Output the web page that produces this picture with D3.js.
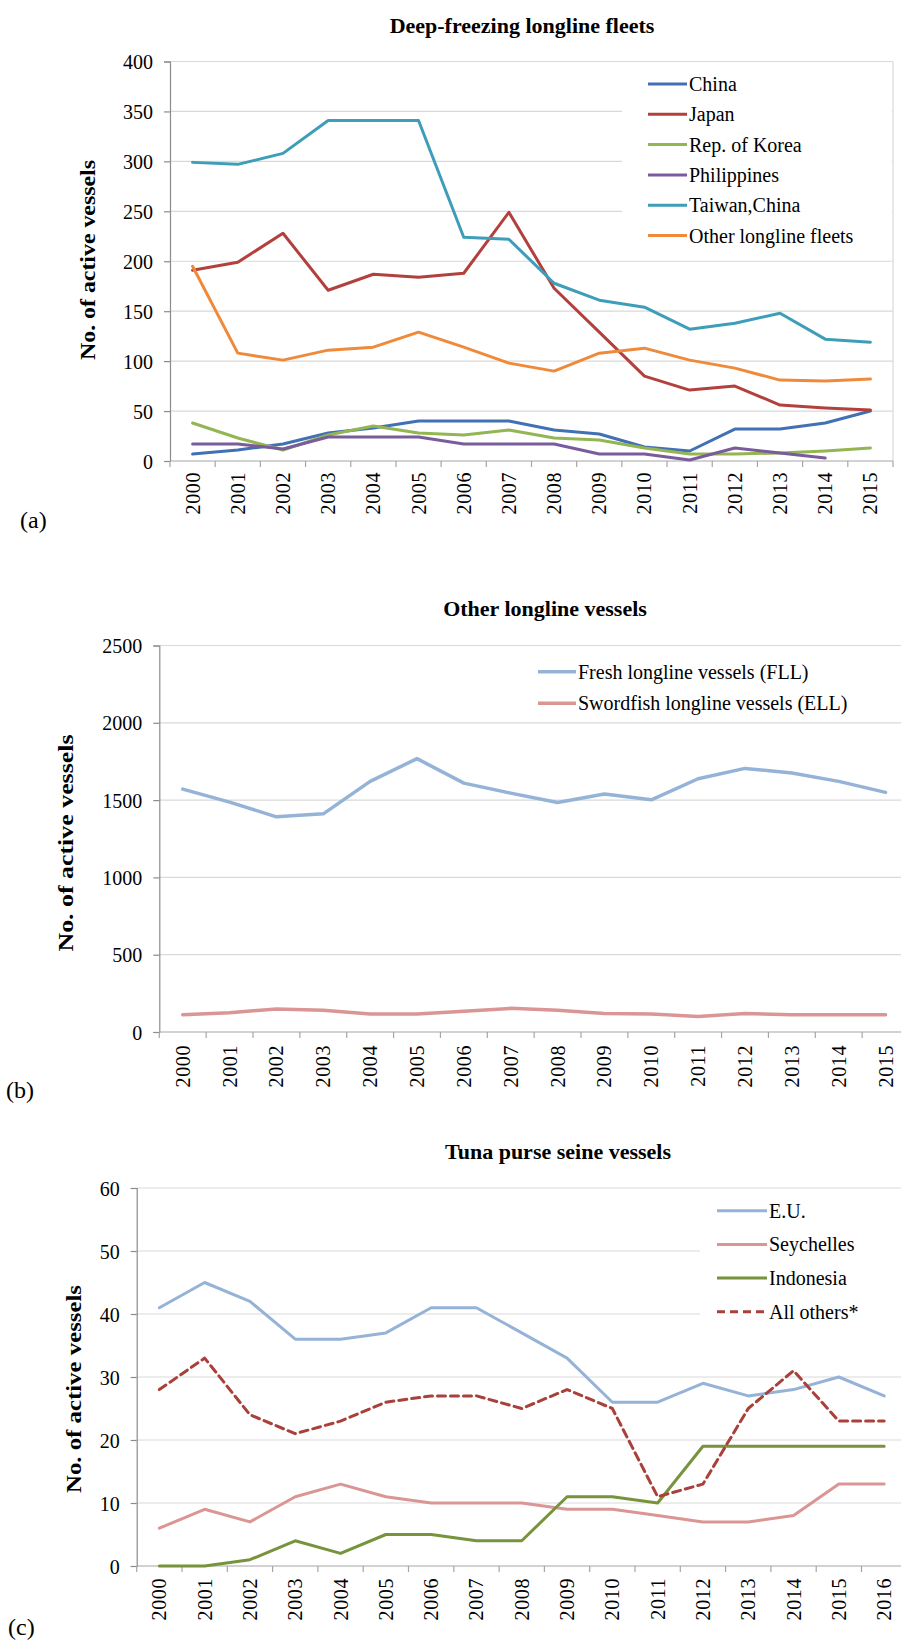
<!DOCTYPE html>
<html>
<head>
<meta charset="utf-8">
<script src="https://cdn.jsdelivr.net/npm/d3@7"></script>
<style>
  body { margin: 0; background: #fff; }
  svg { display: block; }
  text { font-family: "Liberation Serif", "Times New Roman", Times, serif; fill: #000; }
</style>
</head>
<body>
<svg id="fig" width="901" height="1643"></svg>
<script>
// ---------- data ----------
const yearsAB = ["2000","2001","2002","2003","2004","2005","2006","2007","2008","2009","2010","2011","2012","2013","2014","2015"];
const yearsC  = ["2000","2001","2002","2003","2004","2005","2006","2007","2008","2009","2010","2011","2012","2013","2014","2015","2016"];

// (a) deep-freezing longline fleets
const china       = [7, 11, 17, 28, 33, 40, 40, 40, 31, 27, 14, 10, 32, 32, 38, 50];
const japan       = [191, 199, 228, 171, 187, 184, 188, 249, 173, 129, 85, 71, 75, 56, 53, 51];
const korea       = [38, 23, 11, 26, 35, 28, 26, 31, 23, 21, 13, 7, 7, 8, 10, 13];
const philippines = [17, 17, 12, 24, 24, 24, 17, 17, 17, 7, 7, 1, 13, 8, 3, null];
const taiwan      = [299, 297, 308, 341, 341, 341, 224, 222, 178, 161, 154, 132, 138, 148, 122, 119];
const otherLL     = [195, 108, 101, 111, 114, 129, 114, 98, 90, 108, 113, 101, 93, 81, 80, 82];
const ticksA      = [0, 50, 100, 150, 200, 250, 300, 350, 400];

// (b) other longline vessels
const freshLL     = [1571, 1487, 1392, 1411, 1621, 1768, 1610, 1545, 1485, 1539, 1502, 1638, 1705, 1675, 1621, 1550];
const swordLL     = [112, 125, 149, 140, 116, 116, 134, 153, 140, 119, 116, 101, 119, 112, 112, 112];
const ticksB      = [0, 500, 1000, 1500, 2000, 2500];

// (c) tuna purse seine vessels
const eu          = [41, 45, 42, 36, 36, 37, 41, 41, 37, 33, 26, 26, 29, 27, 28, 30, 27];
const seychelles  = [6, 9, 7, 11, 13, 11, 10, 10, 10, 9, 9, 8, 7, 7, 8, 13, 13];
const indonesia   = [0, 0, 1, 4, 2, 5, 5, 4, 4, 11, 11, 10, 19, 19, 19, 19, 19];
const allOthers   = [28, 33, 24, 21, 23, 26, 27, 27, 25, 28, 25, 11, 13, 25, 31, 23, 23];
const ticksC      = [0, 10, 20, 30, 40, 50, 60];

const svg = d3.select("#fig");

function panel(o) {
  const g = svg.append("g");
  const x = d3.scaleBand().domain(o.years).range([o.left, o.right]);
  const y = d3.scaleLinear().domain([0, d3.max(o.ticks)]).range([o.bottom, o.top]);
  const cx = d => x(d) + x.bandwidth() / 2;

  // horizontal gridlines
  g.append("g").selectAll("line").data(o.ticks.filter(t => t > 0)).join("line")
    .attr("x1", o.left).attr("x2", o.right)
    .attr("y1", d => y(d)).attr("y2", d => y(d))
    .attr("stroke", "#d9d9d9").attr("stroke-width", 1.2);

  if (o.rightBorder) {
    g.append("line").attr("x1", o.right).attr("x2", o.right)
      .attr("y1", o.top).attr("y2", o.bottom)
      .attr("stroke", "#d9d9d9").attr("stroke-width", 1.2);
  }

  // y axis
  const ya = g.append("g").attr("transform", `translate(${o.left},0)`)
    .call(d3.axisLeft(y).tickValues(o.ticks).tickSize(6).tickPadding(11).tickFormat(d3.format("d")));
  ya.attr("font-family", null);
  ya.select(".domain").attr("stroke", "#8c8c8c").attr("stroke-width", 1.2);
  ya.selectAll(".tick line").attr("stroke", "#8c8c8c").attr("stroke-width", 1.2);
  ya.selectAll(".tick text").style("font-size", "20px").attr("dy", "0.35em");

  // x axis: ticks on category boundaries, labels rotated at category centres
  const xa = g.append("g").attr("transform", `translate(0,${o.bottom})`);
  xa.append("line").attr("x1", o.left).attr("x2", o.right)
    .attr("stroke", "#a6a6a6").attr("stroke-width", 1.2);
  const bounds = o.years.map(d => x(d)).concat([o.right]);
  xa.selectAll("line.tk").data(bounds).join("line").attr("class", "tk")
    .attr("x1", d => d).attr("x2", d => d).attr("y1", 0).attr("y2", 6)
    .attr("stroke", "#a6a6a6").attr("stroke-width", 1.2);
  xa.selectAll("text").data(o.years).join("text")
    .attr("transform", d => `translate(${cx(d)},${o.labelGap}) rotate(-90)`)
    .attr("text-anchor", "end").attr("dy", "0.35em")
    .style("font-size", "20px").style("letter-spacing", "0.6px")
    .text(d => d);

  // series lines
  const line = d3.line().defined(d => d.v != null).x(d => cx(d.k)).y(d => y(d.v));
  o.series.forEach(s => {
    const pts = s.values.map((v, i) => ({ k: o.years[i], v }));
    g.append("path").datum(pts)
      .attr("fill", "none").attr("stroke", s.color).attr("stroke-width", s.width || 3)
      .attr("stroke-linejoin", "round").attr("stroke-linecap", "round")
      .attr("stroke-dasharray", s.dash || null)
      .attr("d", line);
  });

  // legend
  const L = o.legend;
  g.append("rect").attr("x", L.box[0]).attr("y", L.box[1]).attr("width", L.box[2]).attr("height", L.box[3]).attr("fill", "#fff");
  o.series.forEach((s, i) => {
    const ly = L.y + i * L.dy;
    g.append("line").attr("x1", L.x).attr("x2", L.x + L.len).attr("y1", ly).attr("y2", ly)
      .attr("stroke", s.color).attr("stroke-width", s.width || 3)
      .attr("stroke-dasharray", s.dash || null);
    g.append("text").attr("x", L.x + L.len + 2).attr("y", ly).attr("dy", "0.35em")
      .style("font-size", L.size + "px").text(s.name);
  });

  // titles and panel tag
  g.append("text").attr("x", o.titleX).attr("y", o.titleY).attr("text-anchor", "middle")
    .style("font-size", "22px").style("font-weight", "bold").text(o.title);
  g.append("text").attr("transform", `translate(${o.yTitleX},${o.yTitleY}) rotate(-90)`)
    .attr("text-anchor", "middle").attr("dy", "0.35em")
    .attr("textLength", o.yTitleLen).attr("lengthAdjust", "spacingAndGlyphs")
    .style("font-size", "22px").style("font-weight", "bold").text("No. of active vessels");
  g.append("text").attr("x", o.tagX).attr("y", o.tagY).style("font-size", "24px").text(o.tag);
}

panel({
  years: yearsAB, ticks: ticksA, left: 170, right: 893, top: 61.5, bottom: 461, labelGap: 11,
  rightBorder: true,
  series: [
    { name: "China", values: china, color: "#4270b5" },
    { name: "Japan", values: japan, color: "#b2413e" },
    { name: "Rep. of Korea", values: korea, color: "#93b552" },
    { name: "Philippines", values: philippines, color: "#7a5b9c" },
    { name: "Taiwan,China", values: taiwan, color: "#3e9db8" },
    { name: "Other longline fleets", values: otherLL, color: "#ee8a3a" }
  ],
  legend: { x: 648, y: 84, dy: 30.3, len: 39, size: 20, box: [622, 68, 270, 184] },
  title: "Deep-freezing longline fleets", titleX: 522, titleY: 33,
  yTitleX: 87, yTitleY: 260, yTitleLen: 200,
  tag: "(a)", tagX: 20, tagY: 528
});

panel({
  years: yearsAB, ticks: ticksB, left: 159.3, right: 909, top: 645.5, bottom: 1032, labelGap: 13,
  series: [
    { name: "Fresh longline vessels (FLL)", values: freshLL, color: "#95b3d7", width: 3.5 },
    { name: "Swordfish longline vessels (ELL)", values: swordLL, color: "#d99694", width: 3.5 }
  ],
  legend: { x: 538, y: 671.7, dy: 31.6, len: 38, size: 20, box: [530, 655, 371, 65] },
  title: "Other longline vessels", titleX: 545, titleY: 616,
  yTitleX: 65, yTitleY: 843, yTitleLen: 217,
  tag: "(b)", tagX: 6, tagY: 1098
});

panel({
  years: yearsC, ticks: ticksC, left: 136.7, right: 906.8, top: 1188, bottom: 1566, labelGap: 12,
  series: [
    { name: "E.U.", values: eu, color: "#95b3d7" },
    { name: "Seychelles", values: seychelles, color: "#d99694" },
    { name: "Indonesia", values: indonesia, color: "#77933c" },
    { name: "All others*", values: allOthers, color: "#a9403a", dash: "8,5" }
  ],
  legend: { x: 717, y: 1210.7, dy: 33.7, len: 50, size: 20, box: [700, 1194, 201, 136] },
  title: "Tuna purse seine vessels", titleX: 558, titleY: 1159,
  yTitleX: 73, yTitleY: 1389, yTitleLen: 208,
  tag: "(c)", tagX: 8, tagY: 1635
});
</script>
</body>
</html>
